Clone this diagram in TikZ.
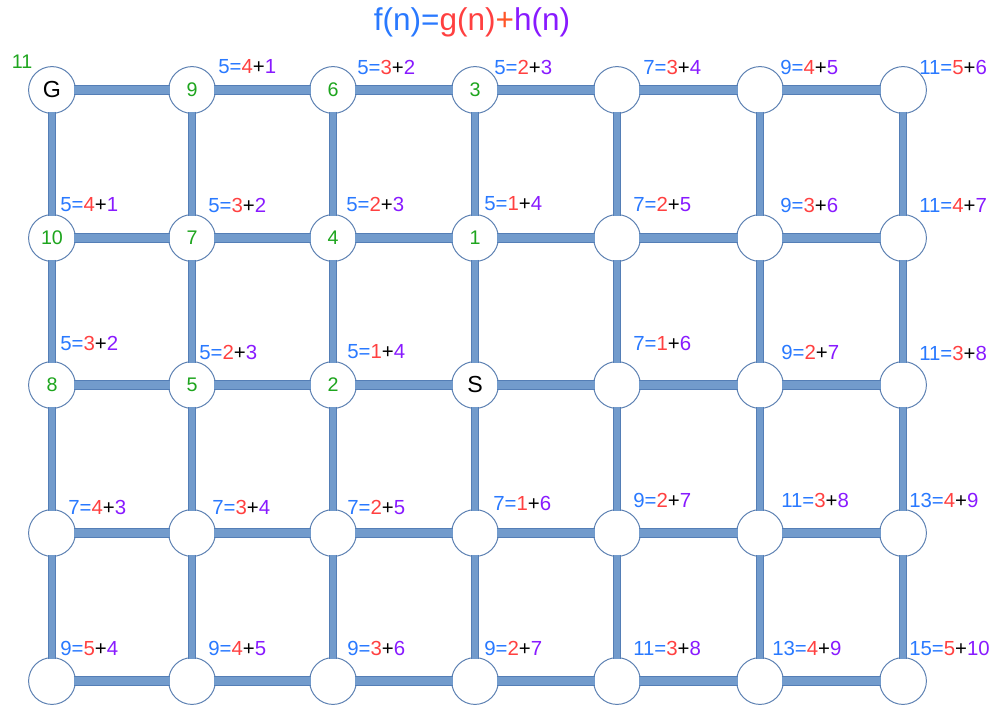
\documentclass[tikz,border=0pt]{standalone}
\usepackage{fontspec}
\setmainfont{Liberation Sans}
\definecolor{fb}{RGB}{41,121,255}
\definecolor{gr}{RGB}{255,64,64}
\definecolor{gp}{RGB}{255,85,40}
\definecolor{hp}{RGB}{136,26,255}
\definecolor{gn}{RGB}{30,165,30}
\definecolor{barfill}{RGB}{114,155,204}
\definecolor{bardark}{RGB}{84,126,182}
\definecolor{ringc}{RGB}{92,128,178}
\newcommand{\fgh}[3]{\textcolor{fb}{#1=}\textcolor{gr}{#2}+\textcolor{hp}{#3}}
\begin{document}
\begin{tikzpicture}[x=0.025cm,y=-0.025cm,
  nd/.style={circle,draw=ringc,line width=0.7pt,fill=white,minimum size=33.3pt,inner sep=0pt},
  lab/.style={anchor=west,inner sep=0pt,font=\fontsize{14.5}{16}\selectfont},
  num/.style={inner sep=0pt,text=gn,font=\fontsize{14}{16}\selectfont},
  big/.style={inner sep=0pt,text=black,font=\fontsize{16.5}{18}\selectfont},
  hout/.style={draw=bardark,line width=6.8pt,shorten <=-1.5pt,shorten >=-1.5pt},
  hin/.style={draw=barfill,line width=5.4pt,shorten <=-1.5pt,shorten >=-1.5pt},
  vout/.style={draw=bardark,line width=5.8pt,shorten <=-1.5pt,shorten >=-1.5pt},
  vin/.style={draw=barfill,line width=4.4pt,shorten <=-1.5pt,shorten >=-1.5pt}]
\useasboundingbox (0,0) rectangle (992,705);
% nodes
\foreach \yy [count=\r] in {90,238,385,533,681}{
  \foreach \xx [count=\c] in {52,192,333,475,617,760,903}{
    \node[nd] (n-\r-\c) at (\xx,\yy) {};
  }
}
% horizontal bars
\foreach \r in {1,...,5}{
  \foreach \c [evaluate=\c as \d using int(\c+1)] in {1,...,6}{
    \draw[hout] (n-\r-\c) -- (n-\r-\d);
    \draw[hin] (n-\r-\c) -- (n-\r-\d);
  }
}
% vertical bars
\foreach \r [evaluate=\r as \s using int(\r+1)] in {1,...,4}{
  \foreach \c in {1,...,7}{
    \draw[vout] (n-\r-\c) -- (n-\s-\c);
    \draw[vin] (n-\r-\c) -- (n-\s-\c);
  }
}
% node texts
\node[big] at (n-1-1) {G};
\node[num] at (n-1-2) {9};
\node[num] at (n-1-3) {6};
\node[num] at (n-1-4) {3};
\node[num] at (n-2-1) {10};
\node[num] at (n-2-2) {7};
\node[num] at (n-2-3) {4};
\node[num] at (n-2-4) {1};
\node[num] at (n-3-1) {8};
\node[num] at (n-3-2) {5};
\node[num] at (n-3-3) {2};
\node[big] at (n-3-4) {S};
\node[inner sep=0pt,text=gn,font=\fontsize{14}{16}\selectfont] (eleven) at (22,62) {11};
% title
\node[inner sep=0pt,font=\fontsize{22.4}{26}\selectfont] (title) at (472,22)
  {\textcolor{fb}{f(n)=}\textcolor{gr}{g(n)}\textcolor{gp}{+}\textcolor{hp}{h(n)}};
% labels row 1
\node[lab] (l12) at (218,67) {\fgh{5}{4}{1}};
\node[lab] (l13) at (357,67) {\fgh{5}{3}{2}};
\node[lab] (l14) at (494,67) {\fgh{5}{2}{3}};
\node[lab] (l15) at (643,67) {\fgh{7}{3}{4}};
\node[lab] (l16) at (780,67) {\fgh{9}{4}{5}};
\node[lab] (l17) at (919,67) {\fgh{11}{5}{6}};
% row 2
\node[lab] (l21) at (60,205) {\fgh{5}{4}{1}};
\node[lab] (l22) at (208,205) {\fgh{5}{3}{2}};
\node[lab] (l23) at (346,204) {\fgh{5}{2}{3}};
\node[lab] (l24) at (484,204) {\fgh{5}{1}{4}};
\node[lab] (l25) at (633,204) {\fgh{7}{2}{5}};
\node[lab] (l26) at (780,205) {\fgh{9}{3}{6}};
\node[lab] (l27) at (919,205) {\fgh{11}{4}{7}};
% row 3
\node[lab] (l31) at (60,343) {\fgh{5}{3}{2}};
\node[lab] (l32) at (199,352) {\fgh{5}{2}{3}};
\node[lab] (l33) at (347,352) {\fgh{5}{1}{4}};
\node[lab] (l35) at (633,343) {\fgh{7}{1}{6}};
\node[lab] (l36) at (781,352) {\fgh{9}{2}{7}};
\node[lab] (l37) at (919,353) {\fgh{11}{3}{8}};
% row 4
\node[lab] (l41) at (68,507) {\fgh{7}{4}{3}};
\node[lab] (l42) at (212,507) {\fgh{7}{3}{4}};
\node[lab] (l43) at (347,507) {\fgh{7}{2}{5}};
\node[lab] (l44) at (493,503) {\fgh{7}{1}{6}};
\node[lab] (l45) at (633,500) {\fgh{9}{2}{7}};
\node[lab] (l46) at (781,500) {\fgh{11}{3}{8}};
\node[lab] (l47) at (909,500) {\fgh{13}{4}{9}};
% row 5
\node[lab] (l51) at (60,648) {\fgh{9}{5}{4}};
\node[lab] (l52) at (208,648) {\fgh{9}{4}{5}};
\node[lab] (l53) at (347,648) {\fgh{9}{3}{6}};
\node[lab] (l54) at (484,648) {\fgh{9}{2}{7}};
\node[lab] (l55) at (633,648) {\fgh{11}{3}{8}};
\node[lab] (l56) at (772,648) {\fgh{13}{4}{9}};
\node[lab] (l57) at (909,648) {\fgh{15}{5}{10}};
\end{tikzpicture}
\end{document}
